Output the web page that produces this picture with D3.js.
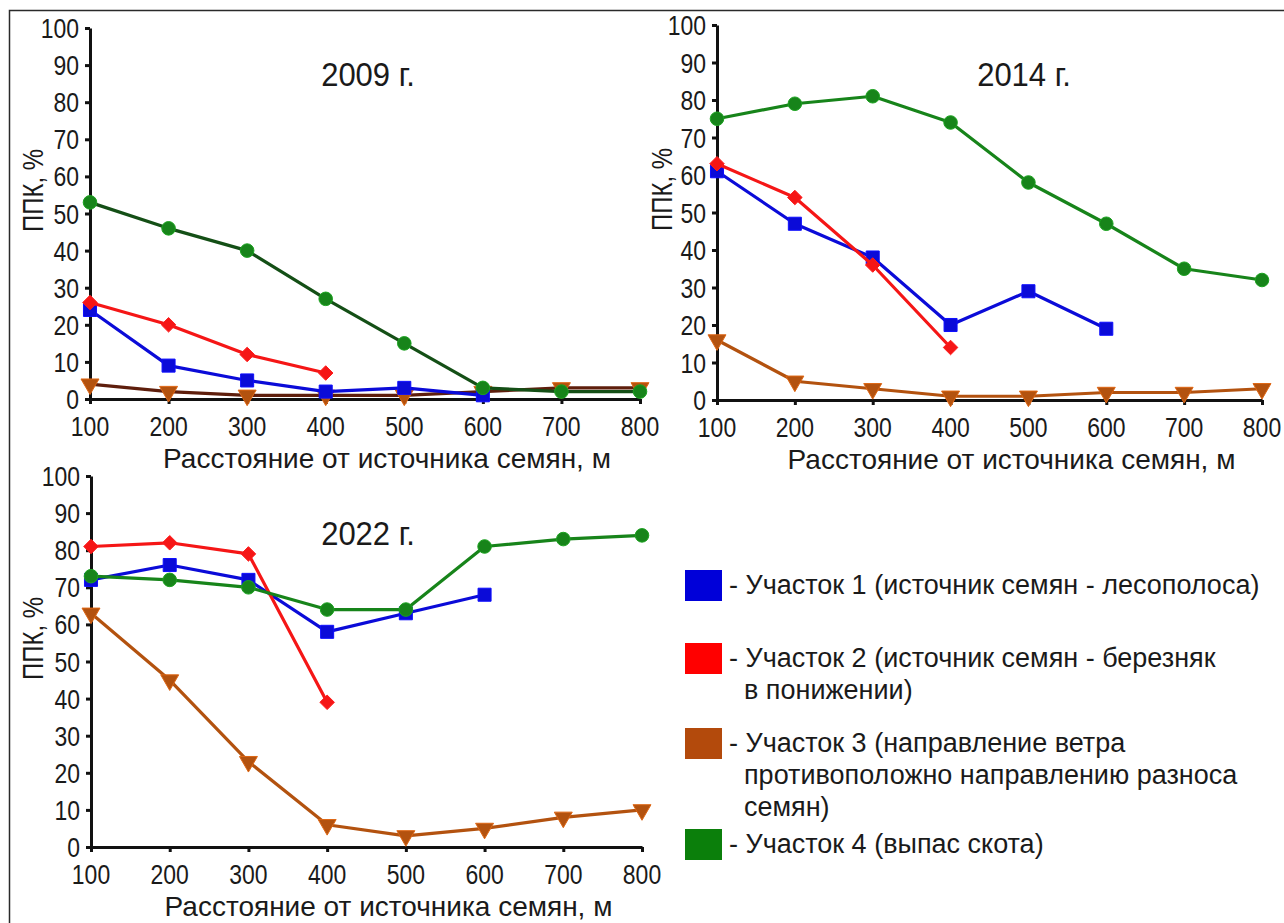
<!DOCTYPE html>
<html>
<head>
<meta charset="utf-8">
<script src="https://cdn.jsdelivr.net/npm/d3@7"></script>
<style>
  html, body { margin: 0; padding: 0; background: #fff; }
  svg { display: block; }
  text { font-family: "Liberation Sans", Arial, sans-serif; fill: #1a1a1a; }
</style>
</head>
<body>
<svg id="chart" width="1284" height="923"></svg>
<script>
// Distance from seed source, m
const distances = [100, 200, 300, 400, 500, 600, 700, 800];
const yTicks = [0, 10, 20, 30, 40, 50, 60, 70, 80, 90, 100];
const years = ["2009 г.", "2014 г.", "2022 г."];
const xAxisLabel = "Расстояние от источника семян, м";
const yAxisLabel = "ППК, %";

// ППК, % by plot (участок), per year
const plot1_2009 = [24, 9, 5, 2, 3, 1];
const plot2_2009 = [26, 20, 12, 7];
const plot3_2009 = [4, 2, 1, 1, 1, 2, 3, 3];
const plot4_2009 = [53, 46, 40, 27, 15, 3, 2, 2];

const plot1_2014 = [61, 47, 38, 20, 29, 19];
const plot2_2014 = [63, 54, 36, 14];
const plot3_2014 = [16, 5, 3, 1, 1, 2, 2, 3];
const plot4_2014 = [75, 79, 81, 74, 58, 47, 35, 32];

const plot1_2022 = [72, 76, 72, 58, 63, 68];
const plot2_2022 = [81, 82, 79, 39];
const plot3_2022 = [63, 45, 23, 6, 3, 5, 8, 10];
const plot4_2022 = [73, 72, 70, 64, 64, 81, 83, 84];

const legendLines = [
  ["- Участок 1 (источник семян - лесополоса)"],
  ["- Участок 2 (источник семян - березняк", "в понижении)"],
  ["- Участок 3 (направление ветра", "противоположно направлению разноса", "семян)"],
  ["- Участок 4 (выпас скота)"]
];

// plot styles: colour, marker symbol, size (index = plot number - 1)
const plotStyles = [
  { color: "#0b0bd8", symbol: d3.symbolSquare, size: 170, rot: 0 },
  { color: "#f51616", symbol: d3.symbolDiamond2, size: 135, rot: 0 },
  { color: "#b3520f", symbol: d3.symbolTriangle, size: 140, rot: 180 },
  { color: "#17841a", symbol: d3.symbolCircle, size: 145, rot: 0 }
];
const legendColors = ["#0000d9", "#ff0000", "#b34a0c", "#0b7f0b"];
const drawOrder = [2, 0, 1, 3];

const panels = [
  { title: years[0], series: [plot1_2009, plot2_2009, plot3_2009, plot4_2009],
    x0: 90, x1: 640, yTop: 28, yBot: 399, titleX: 368, titleY: 86, yLabX: 42,
    lineColors: { 2: "#5e1e0c", 3: "#144f16" } },
  { title: years[1], series: [plot1_2014, plot2_2014, plot3_2014, plot4_2014],
    x0: 717, x1: 1262, yTop: 25, yBot: 400, titleX: 1024, titleY: 86, yLabX: 671, lineColors: {} },
  { title: years[2], series: [plot1_2022, plot2_2022, plot3_2022, plot4_2022],
    x0: 91, x1: 642, yTop: 476, yBot: 847, titleX: 368, titleY: 545, yLabX: 42, lineColors: {} }
];

const svg = d3.select("#chart");
const SX = 0.82; // narrow type for tick numbers

// outer frame
svg.append("rect")
  .attr("x", 9.5).attr("y", 10.5).attr("width", 1290).attr("height", 930)
  .attr("fill", "none").attr("stroke", "#2a2a2a").attr("stroke-width", 1.5);

function placeText(g, x, y, str, size, anchor, sx, rotate) {
  return g.append("text")
    .attr("transform", `translate(${x},${y}) rotate(${rotate || 0}) scale(${sx},1)`)
    .attr("text-anchor", anchor)
    .attr("font-size", size)
    .text(str);
}

panels.forEach(p => {
  const g = svg.append("g");
  const x = d3.scaleLinear().domain([100, 800]).range([p.x0, p.x1]);
  const y = d3.scaleLinear().domain([0, 100]).range([p.yBot, p.yTop]);

  // axes
  const yAxis = d3.axisLeft(y).tickValues(yTicks).tickSize(5).tickSizeOuter(0).tickFormat("");
  const xAxis = d3.axisBottom(x).tickValues(distances).tickSize(5).tickSizeOuter(0).tickFormat("");
  const gy = g.append("g").attr("transform", `translate(${p.x0},0)`).call(yAxis);
  const gx = g.append("g").attr("transform", `translate(0,${p.yBot})`).call(xAxis);
  [gx, gy].forEach(a => {
    a.selectAll("path").attr("stroke", "#111").attr("stroke-width", 3);
    a.selectAll("line").attr("stroke", "#111").attr("stroke-width", 3);
  });

  // tick labels
  yTicks.forEach(t => placeText(g, p.x0 - 11, y(t) + 10, String(t), 28, "end", SX));
  distances.forEach(d => placeText(g, x(d), p.yBot + 37, String(d), 28, "middle", SX));

  // axis titles
  placeText(g, (p.x0 + p.x1) / 2 + 22, p.yBot + 69, xAxisLabel, 28, "middle", 1);
  placeText(g, p.yLabX + 1, (p.yTop + p.yBot) / 2 - 23, yAxisLabel, 30, "middle", 0.8, -90);

  // year title
  placeText(g, p.titleX, p.titleY, p.title, 33, "middle", 0.94);

  // lines and markers
  const line = d3.line().x((d, i) => x(distances[i])).y(d => y(d));
  drawOrder.forEach(k => {
    const vals = p.series[k];
    const st = plotStyles[k];
    g.append("path").datum(vals)
      .attr("d", line).attr("fill", "none")
      .attr("stroke", p.lineColors[k] || st.color)
      .attr("stroke-width", 3.2).attr("stroke-linejoin", "round");
    g.selectAll(null).data(vals).enter().append("path")
      .attr("transform", (d, i) => `translate(${x(distances[i])},${y(d)}) rotate(${st.rot})`)
      .attr("d", d3.symbol().type(st.symbol).size(st.size))
      .attr("fill", st.color)
      .attr("stroke", d3.color(st.color).brighter(0.6))
      .attr("stroke-width", 1);
  });
});

// legend
const legend = svg.append("g");
const legendTops = [570, 643, 728, 829];
legendLines.forEach((lines, i) => {
  legend.append("rect")
    .attr("x", 685).attr("y", legendTops[i]).attr("width", 37).attr("height", 31)
    .attr("fill", legendColors[i]);
  lines.forEach((s, j) => {
    const lx = j === 0 ? 729 : 744;
    placeText(legend, lx, legendTops[i] + 24 + j * 32, s, 27, "start", 1);
  });
});
</script>
</body>
</html>
